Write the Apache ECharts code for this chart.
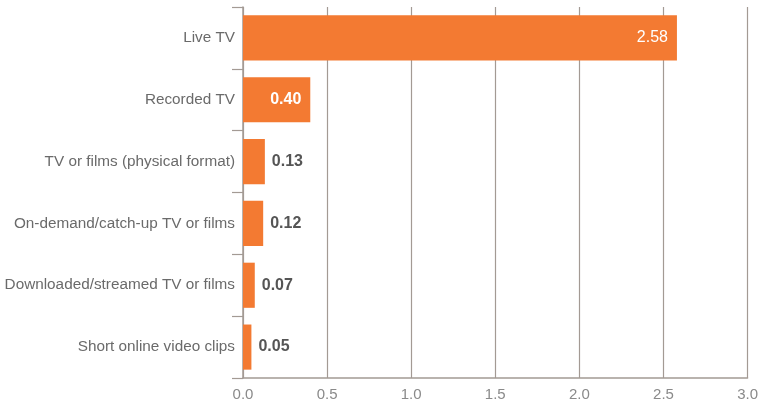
<!DOCTYPE html>
<html>
<head>
<meta charset="utf-8">
<script src="https://cdn.jsdelivr.net/npm/echarts@6/dist/echarts.min.js"></script>
<style>
    html,body{margin:0;padding:0;background:#fff;}
    #chart{width:761px;height:404px;}
</style>
</head>
<body>
<div id="chart"></div>
<script>
    // categories top to bottom
    var categories = ['Live TV', 'Recorded TV', 'TV or films (physical format)', 'On-demand/catch-up TV or films', 'Downloaded/streamed TV or films', 'Short online video clips'];
    var values = [2.58, 0.40, 0.13, 0.12, 0.07, 0.05];
    var xTicks = [0, 0.5, 1.0, 1.5, 2.0, 2.5, 3.0];

    var barData = values.map(function (v, i) {
        var inside = v > 0.3;
        return {
            value: v,
            label: {
                position: inside ? 'insideRight' : 'right',
                color: inside ? '#ffffff' : '#555555',
                distance: inside ? 9 : 7,
                fontWeight: i === 0 ? 'normal' : 'bold'
            }
        };
    });

    var myChart = echarts.init(document.getElementById('chart'));
    var option = {
        animation: false,
        grid: {left: 243, right: 11, top: 7, bottom: 26},
        xAxis: {
            type: 'value',
            min: xTicks[0],
            max: xTicks[xTicks.length - 1],
            interval: 0.5,
            axisLine: {show: true, lineStyle: {color: '#a39a94', width: 1.5}},
            axisTick: {show: false},
            splitLine: {show: true, lineStyle: {color: '#a39a94', width: 1.2}},
            axisLabel: {
                color: '#8a8a8a', fontSize: 15, margin: 9,
                fontFamily: 'Liberation Sans',
                formatter: function (v) { return v.toFixed(1); }
            }
        },
        yAxis: {
            type: 'category',
            inverse: true,
            data: categories,
            axisLine: {show: true, lineStyle: {color: '#a39a94', width: 1.5}},
            axisTick: {show: true, length: 11, lineStyle: {color: '#a39a94', width: 1.2}},
            axisLabel: {color: '#6a6a6a', fontSize: 15.3, margin: 8, fontFamily: 'Liberation Sans'}
        },
        series: [{
            type: 'bar',
            data: barData,
            barCategoryGap: '27%',
            itemStyle: {color: '#f37a32'},
            label: {
                show: true,
                fontSize: 16,
                fontFamily: 'Liberation Sans',
                formatter: function (p) { return p.value.toFixed(2); }
            }
        }]
    };
    myChart.setOption(option);
</script>
</body>
</html>
